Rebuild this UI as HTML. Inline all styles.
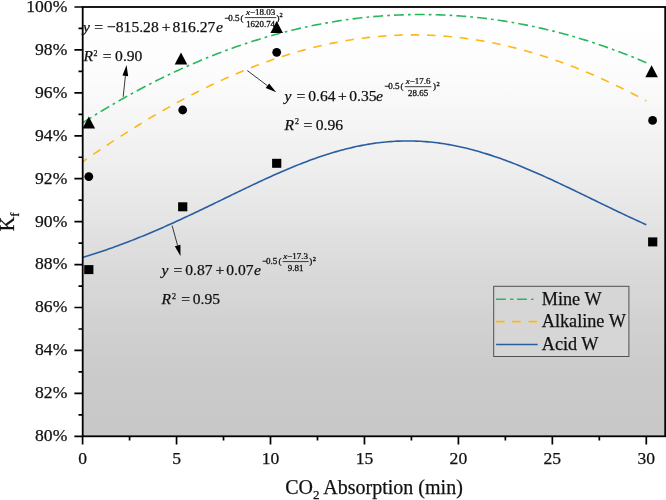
<!DOCTYPE html>
<html><head><meta charset="utf-8"><title>Kf vs CO2 Absorption</title>
<style>
html,body{margin:0;padding:0;background:#fff;}
body{width:666px;height:500px;overflow:hidden;font-family:"Liberation Serif",serif;}
svg{display:block;will-change:transform;}
svg text{font-family:"Liberation Serif",serif;fill:#111;white-space:pre;stroke:#111;stroke-width:0.25px;}
svg text.sm{stroke-width:0.3px;}
</style></head><body>
<svg width="666" height="500" viewBox="0 0 666 500">
<defs><linearGradient id="bg" x1="0" y1="0" x2="0" y2="1"><stop offset="0.0000" stop-color="#ffffff"/><stop offset="0.0250" stop-color="#ffffff"/><stop offset="0.0500" stop-color="#ffffff"/><stop offset="0.0750" stop-color="#fefefe"/><stop offset="0.1000" stop-color="#fdfdfd"/><stop offset="0.1250" stop-color="#fdfdfd"/><stop offset="0.1500" stop-color="#fcfcfc"/><stop offset="0.1750" stop-color="#fbfbfb"/><stop offset="0.2000" stop-color="#f9f9f9"/><stop offset="0.2250" stop-color="#f8f8f8"/><stop offset="0.2500" stop-color="#f6f6f6"/><stop offset="0.2750" stop-color="#f5f5f5"/><stop offset="0.3000" stop-color="#f3f3f3"/><stop offset="0.3250" stop-color="#f1f1f1"/><stop offset="0.3500" stop-color="#f0f0f0"/><stop offset="0.3750" stop-color="#eeeeee"/><stop offset="0.4000" stop-color="#ececec"/><stop offset="0.4250" stop-color="#eaeaea"/><stop offset="0.4500" stop-color="#e8e8e8"/><stop offset="0.4750" stop-color="#e6e6e6"/><stop offset="0.5000" stop-color="#e4e4e4"/><stop offset="0.5250" stop-color="#e1e1e1"/><stop offset="0.5500" stop-color="#dfdfdf"/><stop offset="0.5750" stop-color="#dddddd"/><stop offset="0.6000" stop-color="#dbdbdb"/><stop offset="0.6250" stop-color="#d9d9d9"/><stop offset="0.6500" stop-color="#d7d7d7"/><stop offset="0.6750" stop-color="#d6d6d6"/><stop offset="0.7000" stop-color="#d4d4d4"/><stop offset="0.7250" stop-color="#d2d2d2"/><stop offset="0.7500" stop-color="#d1d1d1"/><stop offset="0.7750" stop-color="#cfcfcf"/><stop offset="0.8000" stop-color="#cecece"/><stop offset="0.8250" stop-color="#cccccc"/><stop offset="0.8500" stop-color="#cbcbcb"/><stop offset="0.8750" stop-color="#cacaca"/><stop offset="0.9000" stop-color="#cacaca"/><stop offset="0.9250" stop-color="#c9c9c9"/><stop offset="0.9500" stop-color="#c8c8c8"/><stop offset="0.9750" stop-color="#c8c8c8"/><stop offset="1.0000" stop-color="#c8c8c8"/></linearGradient></defs>
<rect x="82.7" y="7.0" width="582.5" height="429.3" fill="url(#bg)"/>
<path d="M82.60,122.87 L84.95,121.37 L87.30,119.88 L89.65,118.40 L91.99,116.93 L94.34,115.47 L96.69,114.02 L99.04,112.59 L101.39,111.16 L103.74,109.75 L106.09,108.34 L108.44,106.94 L110.78,105.56 L113.13,104.19 L115.48,102.82 L117.83,101.47 L120.18,100.13 L122.53,98.79 L124.88,97.47 L127.23,96.16 L129.57,94.86 L131.92,93.57 L134.27,92.29 L136.62,91.02 L138.97,89.76 L141.32,88.51 L143.67,87.27 L146.02,86.04 L148.37,84.83 L150.71,83.62 L153.06,82.42 L155.41,81.24 L157.76,80.06 L160.11,78.89 L162.46,77.74 L164.81,76.60 L167.15,75.46 L169.50,74.34 L171.85,73.23 L174.20,72.12 L176.55,71.03 L178.90,69.95 L181.25,68.88 L183.60,67.82 L185.94,66.77 L188.29,65.73 L190.64,64.70 L192.99,63.68 L195.34,62.67 L197.69,61.67 L200.04,60.68 L202.39,59.71 L204.73,58.74 L207.08,57.78 L209.43,56.84 L211.78,55.90 L214.13,54.98 L216.48,54.06 L218.83,53.16 L221.18,52.27 L223.52,51.38 L225.87,50.51 L228.22,49.65 L230.57,48.80 L232.92,47.96 L235.27,47.12 L237.62,46.30 L239.97,45.49 L242.31,44.69 L244.66,43.91 L247.01,43.13 L249.36,42.36 L251.71,41.60 L254.06,40.85 L256.41,40.12 L258.76,39.39 L261.11,38.67 L263.45,37.97 L265.80,37.27 L268.15,36.59 L270.50,35.92 L272.85,35.25 L275.20,34.60 L277.55,33.96 L279.89,33.32 L282.24,32.70 L284.59,32.09 L286.94,31.49 L289.29,30.90 L291.64,30.32 L293.99,29.75 L296.34,29.19 L298.68,28.64 L301.03,28.10 L303.38,27.58 L305.73,27.06 L308.08,26.55 L310.43,26.06 L312.78,25.57 L315.13,25.09 L317.48,24.63 L319.82,24.17 L322.17,23.73 L324.52,23.30 L326.87,22.87 L329.22,22.46 L331.57,22.06 L333.92,21.67 L336.26,21.28 L338.61,20.91 L340.96,20.55 L343.31,20.20 L345.66,19.86 L348.01,19.53 L350.36,19.22 L352.71,18.91 L355.05,18.61 L357.40,18.32 L359.75,18.05 L362.10,17.78 L364.45,17.52 L366.80,17.28 L369.15,17.04 L371.50,16.82 L373.85,16.60 L376.19,16.40 L378.54,16.21 L380.89,16.02 L383.24,15.85 L385.59,15.69 L387.94,15.54 L390.29,15.40 L392.63,15.27 L394.98,15.15 L397.33,15.04 L399.68,14.94 L402.03,14.85 L404.38,14.77 L406.73,14.70 L409.08,14.64 L411.42,14.60 L413.77,14.56 L416.12,14.53 L418.47,14.52 L420.82,14.51 L423.17,14.52 L425.52,14.53 L427.87,14.56 L430.22,14.60 L432.56,14.64 L434.91,14.70 L437.26,14.77 L439.61,14.85 L441.96,14.94 L444.31,15.04 L446.66,15.15 L449.00,15.27 L451.35,15.40 L453.70,15.54 L456.05,15.69 L458.40,15.85 L460.75,16.02 L463.10,16.21 L465.45,16.40 L467.79,16.60 L470.14,16.82 L472.49,17.04 L474.84,17.28 L477.19,17.52 L479.54,17.78 L481.89,18.05 L484.24,18.32 L486.58,18.61 L488.93,18.91 L491.28,19.22 L493.63,19.53 L495.98,19.86 L498.33,20.20 L500.68,20.55 L503.03,20.91 L505.38,21.28 L507.72,21.67 L510.07,22.06 L512.42,22.46 L514.77,22.87 L517.12,23.30 L519.47,23.73 L521.82,24.17 L524.16,24.63 L526.51,25.09 L528.86,25.57 L531.21,26.06 L533.56,26.55 L535.91,27.06 L538.26,27.58 L540.61,28.10 L542.95,28.64 L545.30,29.19 L547.65,29.75 L550.00,30.32 L552.35,30.90 L554.70,31.49 L557.05,32.09 L559.40,32.70 L561.75,33.32 L564.09,33.96 L566.44,34.60 L568.79,35.25 L571.14,35.92 L573.49,36.59 L575.84,37.27 L578.19,37.97 L580.53,38.67 L582.88,39.39 L585.23,40.12 L587.58,40.85 L589.93,41.60 L592.28,42.36 L594.63,43.13 L596.98,43.91 L599.33,44.69 L601.67,45.49 L604.02,46.30 L606.37,47.12 L608.72,47.96 L611.07,48.80 L613.42,49.65 L615.77,50.51 L618.12,51.38 L620.46,52.27 L622.81,53.16 L625.16,54.06 L627.51,54.98 L629.86,55.90 L632.21,56.84 L634.56,57.78 L636.90,58.74 L639.25,59.71 L641.60,60.68 L643.95,61.67 L646.30,62.67" fill="none" stroke="#27b75c" stroke-width="1.6" stroke-dasharray="9.9 4.1 2.7 4.1" stroke-dashoffset="-0.5"/>
<path d="M82.60,161.80 L84.95,160.17 L87.30,158.54 L89.65,156.92 L91.99,155.31 L94.34,153.71 L96.69,152.11 L99.04,150.52 L101.39,148.94 L103.74,147.37 L106.09,145.80 L108.44,144.24 L110.78,142.69 L113.13,141.15 L115.48,139.62 L117.83,138.10 L120.18,136.58 L122.53,135.07 L124.88,133.57 L127.23,132.08 L129.57,130.60 L131.92,129.13 L134.27,127.67 L136.62,126.21 L138.97,124.77 L141.32,123.33 L143.67,121.90 L146.02,120.48 L148.37,119.08 L150.71,117.68 L153.06,116.29 L155.41,114.91 L157.76,113.54 L160.11,112.18 L162.46,110.83 L164.81,109.48 L167.15,108.15 L169.50,106.83 L171.85,105.52 L174.20,104.22 L176.55,102.93 L178.90,101.65 L181.25,100.38 L183.60,99.12 L185.94,97.87 L188.29,96.63 L190.64,95.40 L192.99,94.19 L195.34,92.98 L197.69,91.78 L200.04,90.60 L202.39,89.43 L204.73,88.26 L207.08,87.11 L209.43,85.97 L211.78,84.84 L214.13,83.72 L216.48,82.62 L218.83,81.52 L221.18,80.44 L223.52,79.37 L225.87,78.30 L228.22,77.26 L230.57,76.22 L232.92,75.19 L235.27,74.18 L237.62,73.18 L239.97,72.19 L242.31,71.21 L244.66,70.24 L247.01,69.29 L249.36,68.34 L251.71,67.41 L254.06,66.50 L256.41,65.59 L258.76,64.70 L261.11,63.82 L263.45,62.95 L265.80,62.09 L268.15,61.25 L270.50,60.42 L272.85,59.60 L275.20,58.79 L277.55,58.00 L279.89,57.22 L282.24,56.45 L284.59,55.70 L286.94,54.96 L289.29,54.23 L291.64,53.51 L293.99,52.81 L296.34,52.12 L298.68,51.44 L301.03,50.78 L303.38,50.13 L305.73,49.49 L308.08,48.87 L310.43,48.26 L312.78,47.66 L315.13,47.08 L317.48,46.50 L319.82,45.95 L322.17,45.40 L324.52,44.87 L326.87,44.36 L329.22,43.85 L331.57,43.36 L333.92,42.89 L336.26,42.42 L338.61,41.97 L340.96,41.54 L343.31,41.12 L345.66,40.71 L348.01,40.31 L350.36,39.93 L352.71,39.57 L355.05,39.21 L357.40,38.87 L359.75,38.55 L362.10,38.23 L364.45,37.94 L366.80,37.65 L369.15,37.38 L371.50,37.13 L373.85,36.88 L376.19,36.66 L378.54,36.44 L380.89,36.24 L383.24,36.05 L385.59,35.88 L387.94,35.72 L390.29,35.58 L392.63,35.45 L394.98,35.33 L397.33,35.23 L399.68,35.14 L402.03,35.07 L404.38,35.01 L406.73,34.96 L409.08,34.93 L411.42,34.91 L413.77,34.90 L416.12,34.91 L418.47,34.94 L420.82,34.98 L423.17,35.03 L425.52,35.09 L427.87,35.17 L430.22,35.27 L432.56,35.38 L434.91,35.50 L437.26,35.63 L439.61,35.79 L441.96,35.95 L444.31,36.13 L446.66,36.32 L449.00,36.53 L451.35,36.75 L453.70,36.98 L456.05,37.23 L458.40,37.49 L460.75,37.76 L463.10,38.05 L465.45,38.36 L467.79,38.68 L470.14,39.01 L472.49,39.35 L474.84,39.71 L477.19,40.08 L479.54,40.47 L481.89,40.87 L484.24,41.28 L486.58,41.71 L488.93,42.15 L491.28,42.61 L493.63,43.07 L495.98,43.56 L498.33,44.05 L500.68,44.56 L503.03,45.08 L505.38,45.62 L507.72,46.17 L510.07,46.73 L512.42,47.31 L514.77,47.90 L517.12,48.50 L519.47,49.12 L521.82,49.75 L524.16,50.39 L526.51,51.04 L528.86,51.71 L531.21,52.39 L533.56,53.09 L535.91,53.80 L538.26,54.52 L540.61,55.25 L542.95,56.00 L545.30,56.76 L547.65,57.53 L550.00,58.32 L552.35,59.11 L554.70,59.93 L557.05,60.75 L559.40,61.58 L561.75,62.43 L564.09,63.29 L566.44,64.17 L568.79,65.05 L571.14,65.95 L573.49,66.86 L575.84,67.78 L578.19,68.72 L580.53,69.67 L582.88,70.63 L585.23,71.60 L587.58,72.58 L589.93,73.57 L592.28,74.58 L594.63,75.60 L596.98,76.63 L599.33,77.67 L601.67,78.73 L604.02,79.79 L606.37,80.87 L608.72,81.96 L611.07,83.06 L613.42,84.17 L615.77,85.29 L618.12,86.43 L620.46,87.57 L622.81,88.73 L625.16,89.89 L627.51,91.07 L629.86,92.26 L632.21,93.46 L634.56,94.67 L636.90,95.89 L639.25,97.13 L641.60,98.37 L643.95,99.62 L646.30,100.89" fill="none" stroke="#fdb813" stroke-width="1.6" stroke-dasharray="8.5 7.9" stroke-dashoffset="3.45"/>
<path d="M82.60,257.43 L84.95,256.73 L87.30,256.01 L89.65,255.28 L91.99,254.54 L94.34,253.79 L96.69,253.03 L99.04,252.26 L101.39,251.48 L103.74,250.69 L106.09,249.89 L108.44,249.08 L110.78,248.25 L113.13,247.42 L115.48,246.58 L117.83,245.72 L120.18,244.86 L122.53,243.98 L124.88,243.10 L127.23,242.20 L129.57,241.30 L131.92,240.38 L134.27,239.46 L136.62,238.52 L138.97,237.58 L141.32,236.63 L143.67,235.67 L146.02,234.70 L148.37,233.72 L150.71,232.73 L153.06,231.73 L155.41,230.73 L157.76,229.71 L160.11,228.69 L162.46,227.66 L164.81,226.62 L167.15,225.58 L169.50,224.53 L171.85,223.47 L174.20,222.40 L176.55,221.33 L178.90,220.25 L181.25,219.17 L183.60,218.08 L185.94,216.98 L188.29,215.88 L190.64,214.78 L192.99,213.67 L195.34,212.55 L197.69,211.43 L200.04,210.31 L202.39,209.19 L204.73,208.06 L207.08,206.93 L209.43,205.79 L211.78,204.66 L214.13,203.52 L216.48,202.38 L218.83,201.24 L221.18,200.10 L223.52,198.96 L225.87,197.82 L228.22,196.68 L230.57,195.54 L232.92,194.40 L235.27,193.26 L237.62,192.12 L239.97,190.99 L242.31,189.86 L244.66,188.73 L247.01,187.61 L249.36,186.49 L251.71,185.37 L254.06,184.26 L256.41,183.16 L258.76,182.06 L261.11,180.96 L263.45,179.88 L265.80,178.80 L268.15,177.72 L270.50,176.66 L272.85,175.60 L275.20,174.55 L277.55,173.51 L279.89,172.48 L282.24,171.46 L284.59,170.45 L286.94,169.45 L289.29,168.46 L291.64,167.48 L293.99,166.52 L296.34,165.56 L298.68,164.62 L301.03,163.70 L303.38,162.78 L305.73,161.88 L308.08,161.00 L310.43,160.12 L312.78,159.27 L315.13,158.43 L317.48,157.60 L319.82,156.79 L322.17,156.00 L324.52,155.23 L326.87,154.47 L329.22,153.73 L331.57,153.01 L333.92,152.30 L336.26,151.62 L338.61,150.95 L340.96,150.30 L343.31,149.67 L345.66,149.07 L348.01,148.48 L350.36,147.91 L352.71,147.36 L355.05,146.84 L357.40,146.33 L359.75,145.85 L362.10,145.39 L364.45,144.95 L366.80,144.53 L369.15,144.13 L371.50,143.76 L373.85,143.41 L376.19,143.08 L378.54,142.77 L380.89,142.49 L383.24,142.23 L385.59,142.00 L387.94,141.79 L390.29,141.60 L392.63,141.43 L394.98,141.29 L397.33,141.17 L399.68,141.08 L402.03,141.01 L404.38,140.97 L406.73,140.94 L409.08,140.95 L411.42,140.97 L413.77,141.02 L416.12,141.10 L418.47,141.20 L420.82,141.32 L423.17,141.46 L425.52,141.63 L427.87,141.83 L430.22,142.04 L432.56,142.28 L434.91,142.55 L437.26,142.83 L439.61,143.14 L441.96,143.48 L444.31,143.83 L446.66,144.21 L449.00,144.61 L451.35,145.03 L453.70,145.48 L456.05,145.94 L458.40,146.43 L460.75,146.94 L463.10,147.47 L465.45,148.02 L467.79,148.59 L470.14,149.19 L472.49,149.80 L474.84,150.43 L477.19,151.08 L479.54,151.75 L481.89,152.44 L484.24,153.15 L486.58,153.87 L488.93,154.62 L491.28,155.38 L493.63,156.16 L495.98,156.95 L498.33,157.77 L500.68,158.59 L503.03,159.44 L505.38,160.30 L507.72,161.17 L510.07,162.06 L512.42,162.96 L514.77,163.88 L517.12,164.81 L519.47,165.75 L521.82,166.71 L524.16,167.68 L526.51,168.66 L528.86,169.65 L531.21,170.65 L533.56,171.66 L535.91,172.69 L538.26,173.72 L540.61,174.76 L542.95,175.81 L545.30,176.87 L547.65,177.94 L550.00,179.01 L552.35,180.09 L554.70,181.18 L557.05,182.28 L559.40,183.38 L561.75,184.49 L564.09,185.60 L566.44,186.71 L568.79,187.83 L571.14,188.96 L573.49,190.09 L575.84,191.22 L578.19,192.35 L580.53,193.49 L582.88,194.62 L585.23,195.76 L587.58,196.90 L589.93,198.04 L592.28,199.19 L594.63,200.33 L596.98,201.47 L599.33,202.61 L601.67,203.75 L604.02,204.88 L606.37,206.02 L608.72,207.15 L611.07,208.28 L613.42,209.41 L615.77,210.54 L618.12,211.66 L620.46,212.78 L622.81,213.89 L625.16,215.00 L627.51,216.10 L629.86,217.20 L632.21,218.30 L634.56,219.39 L636.90,220.47 L639.25,221.55 L641.60,222.62 L643.95,223.68 L646.30,224.74" fill="none" stroke="#285e9f" stroke-width="1.6"/>
<rect x="82.7" y="7.0" width="582.5" height="429.3" fill="none" stroke="#000" stroke-width="1.8"/>
<path d="M74.40,436.30H82.70M78.50,414.83H82.70M74.40,393.37H82.70M78.50,371.90H82.70M74.40,350.44H82.70M78.50,328.98H82.70M74.40,307.51H82.70M78.50,286.05H82.70M74.40,264.58H82.70M78.50,243.12H82.70M74.40,221.65H82.70M78.50,200.19H82.70M74.40,178.72H82.70M78.50,157.25H82.70M74.40,135.79H82.70M78.50,114.33H82.70M74.40,92.86H82.70M78.50,71.39H82.70M74.40,49.93H82.70M78.50,28.46H82.70M74.40,7.00H82.70M82.60,436.30V444.60M129.57,436.30V440.50M176.55,436.30V444.60M223.52,436.30V440.50M270.50,436.30V444.60M317.48,436.30V440.50M364.45,436.30V444.60M411.42,436.30V440.50M458.40,436.30V444.60M505.38,436.30V440.50M552.35,436.30V444.60M599.33,436.30V440.50M646.30,436.30V444.60" stroke="#000" stroke-width="1.7" fill="none"/>
<path d="M88.8,116.5L95.1,128.5L82.5,128.5Z" fill="#000"/>
<path d="M181.0,52.6L187.3,64.6L174.7,64.6Z" fill="#000"/>
<path d="M276.7,21.0L283.0,33.0L270.4,33.0Z" fill="#000"/>
<path d="M651.6,65.2L657.9,77.2L645.3,77.2Z" fill="#000"/>
<circle cx="88.8" cy="176.6" r="4.4" fill="#000"/>
<circle cx="182.7" cy="110.0" r="4.4" fill="#000"/>
<circle cx="276.7" cy="52.3" r="4.4" fill="#000"/>
<circle cx="652.6" cy="120.4" r="4.4" fill="#000"/>
<rect x="84.2" y="265.1" width="9.2" height="9" fill="#000"/>
<rect x="178.1" y="202.3" width="9.2" height="9" fill="#000"/>
<rect x="272.1" y="158.8" width="9.2" height="9" fill="#000"/>
<rect x="648.1" y="237.4" width="9.2" height="9" fill="#000"/>
<path d="M123.2,96.8L125.4,75.9" stroke="#222" stroke-width="0.9" fill="none"/><path d="M126.5,65.0L128.2,76.2L122.5,75.6Z" fill="#000"/>
<path d="M247.2,70.5L267.4,85.7" stroke="#222" stroke-width="0.9" fill="none"/><path d="M276.2,92.3L265.7,88.0L269.1,83.4Z" fill="#000"/>
<path d="M172.1,225.6L177.6,245.5" stroke="#222" stroke-width="0.9" fill="none"/><path d="M180.5,256.1L174.8,246.3L180.4,244.7Z" fill="#000"/>
<rect x="493.7" y="286.3" width="135.2" height="70.2" fill="#d6d6d6" stroke="#505050" stroke-width="1"/>
<path d="M496.1,299.3H533.5" stroke="#27b75c" stroke-width="1.6" stroke-dasharray="9.8 4.3 3.2 3.6" fill="none"/>
<path d="M496.1,321.6H537.1" stroke="#fdb813" stroke-width="1.6" stroke-dasharray="8.5 7.7" fill="none"/>
<path d="M496.1,344.5H537.7" stroke="#285e9f" stroke-width="1.6" fill="none"/>
<text x="67.3" y="441.20" text-anchor="end" font-size="17.6">80%</text>
<text x="67.3" y="398.27" text-anchor="end" font-size="17.6">82%</text>
<text x="67.3" y="355.34" text-anchor="end" font-size="17.6">84%</text>
<text x="67.3" y="312.41" text-anchor="end" font-size="17.6">86%</text>
<text x="67.3" y="269.48" text-anchor="end" font-size="17.6">88%</text>
<text x="67.3" y="226.55" text-anchor="end" font-size="17.6">90%</text>
<text x="67.3" y="183.62" text-anchor="end" font-size="17.6">92%</text>
<text x="67.3" y="140.69" text-anchor="end" font-size="17.6">94%</text>
<text x="67.3" y="97.76" text-anchor="end" font-size="17.6">96%</text>
<text x="67.3" y="54.83" text-anchor="end" font-size="17.6">98%</text>
<text x="67.3" y="11.90" text-anchor="end" font-size="17.6">100%</text>
<text x="82.60" y="464.3" text-anchor="middle" font-size="17.6">0</text>
<text x="176.55" y="464.3" text-anchor="middle" font-size="17.6">5</text>
<text x="270.50" y="464.3" text-anchor="middle" font-size="17.6">10</text>
<text x="364.45" y="464.3" text-anchor="middle" font-size="17.6">15</text>
<text x="458.40" y="464.3" text-anchor="middle" font-size="17.6">20</text>
<text x="552.35" y="464.3" text-anchor="middle" font-size="17.6">25</text>
<text x="646.30" y="464.3" text-anchor="middle" font-size="17.6">30</text>
<text x="374" y="494" text-anchor="middle" font-size="20">CO<tspan font-size="13" dy="5">2</tspan><tspan dy="-5"> Absorption (min)</tspan></text>
<text transform="translate(14.4,231.2) rotate(-90)" font-size="20">K<tspan font-size="12.5" dy="4.5">f</tspan></text>
<text x="541.8" y="304.5" font-size="18.2">Mine W</text>
<text x="541.8" y="327.4" font-size="18.2">Alkaline W</text>
<text x="541.8" y="350.2" font-size="18.2">Acid W</text>
<text y="31.6" font-size="15.6"><tspan x="83.0" font-style="italic">y</tspan><tspan x="94.3">=</tspan><tspan x="107.0"><tspan x="107.0">−</tspan><tspan x="115.8">815.28</tspan></tspan><tspan x="161.7">+</tspan><tspan x="172.5">816.27</tspan><tspan x="216.0" font-style="italic">e</tspan></text><text y="21" font-size="9" class="sm"><tspan x="224.2">−</tspan><tspan x="228.2">0.5</tspan><tspan x="240.5">(</tspan><tspan x="276.6">)</tspan></text><text transform="translate(260.6,14.6) scale(1,0.82)" font-size="9" text-anchor="middle" class="sm"><tspan font-style="italic">x</tspan>−18.03</text><path d="M244.8,17.6H276.3" stroke="#222" stroke-width="0.9"/><text x="260.6" y="26.6" font-size="8.9" text-anchor="middle" class="sm">1620.74</text><text x="279.6" y="17" font-size="6.4" class="sm">2</text><text y="61" font-size="15.6"><tspan x="83.6" font-style="italic">R</tspan><tspan x="102.8">=</tspan><tspan x="115.1">0.90</tspan></text><text x="93.6" y="55.6" font-size="8">2</text>
<text y="100.8" font-size="15.6"><tspan x="284.6" font-style="italic">y</tspan><tspan x="296.4">=</tspan><tspan x="308.2">0.64</tspan><tspan x="337.9">+</tspan><tspan x="349.3">0.35</tspan><tspan x="375.9" font-style="italic">e</tspan></text><text y="88.8" font-size="9" class="sm"><tspan x="384.2">−</tspan><tspan x="388.2">0.5</tspan><tspan x="400.5">(</tspan><tspan x="433.1">)</tspan></text><text transform="translate(418.1,84) scale(1,0.82)" font-size="9" text-anchor="middle" class="sm"><tspan font-style="italic">x</tspan>−17.6</text><path d="M404.8,86.7H431.3" stroke="#222" stroke-width="0.9"/><text x="418.1" y="96" font-size="8.9" text-anchor="middle" class="sm">28.65</text><text x="436.6" y="85.8" font-size="6.4" class="sm">2</text><text y="129.5" font-size="15.6"><tspan x="284.5" font-style="italic">R</tspan><tspan x="303.6">=</tspan><tspan x="315.8">0.96</tspan></text><text x="295.0" y="124.1" font-size="8">2</text>
<text y="275.4" font-size="15.6"><tspan x="161.6" font-style="italic">y</tspan><tspan x="173.4">=</tspan><tspan x="185.2">0.87</tspan><tspan x="215.4">+</tspan><tspan x="226.3">0.07</tspan><tspan x="253.9" font-style="italic">e</tspan></text><text y="264" font-size="9" class="sm"><tspan x="262.0">−</tspan><tspan x="266.1">0.5</tspan><tspan x="278.4">(</tspan><tspan x="309.3">)</tspan></text><text transform="translate(295.6,258.6) scale(1,0.82)" font-size="9" text-anchor="middle" class="sm"><tspan font-style="italic">x</tspan>−17.3</text><path d="M282.6,261.6H308.7" stroke="#222" stroke-width="0.9"/><text x="295.6" y="271.2" font-size="8.9" text-anchor="middle" class="sm">9.81</text><text x="312.8" y="260.7" font-size="6.4" class="sm">2</text><text y="304" font-size="15.6"><tspan x="161.5" font-style="italic">R</tspan><tspan x="181.2">=</tspan><tspan x="192.8">0.95</tspan></text><text x="172.0" y="298.6" font-size="8">2</text>
</svg>
</body></html>
